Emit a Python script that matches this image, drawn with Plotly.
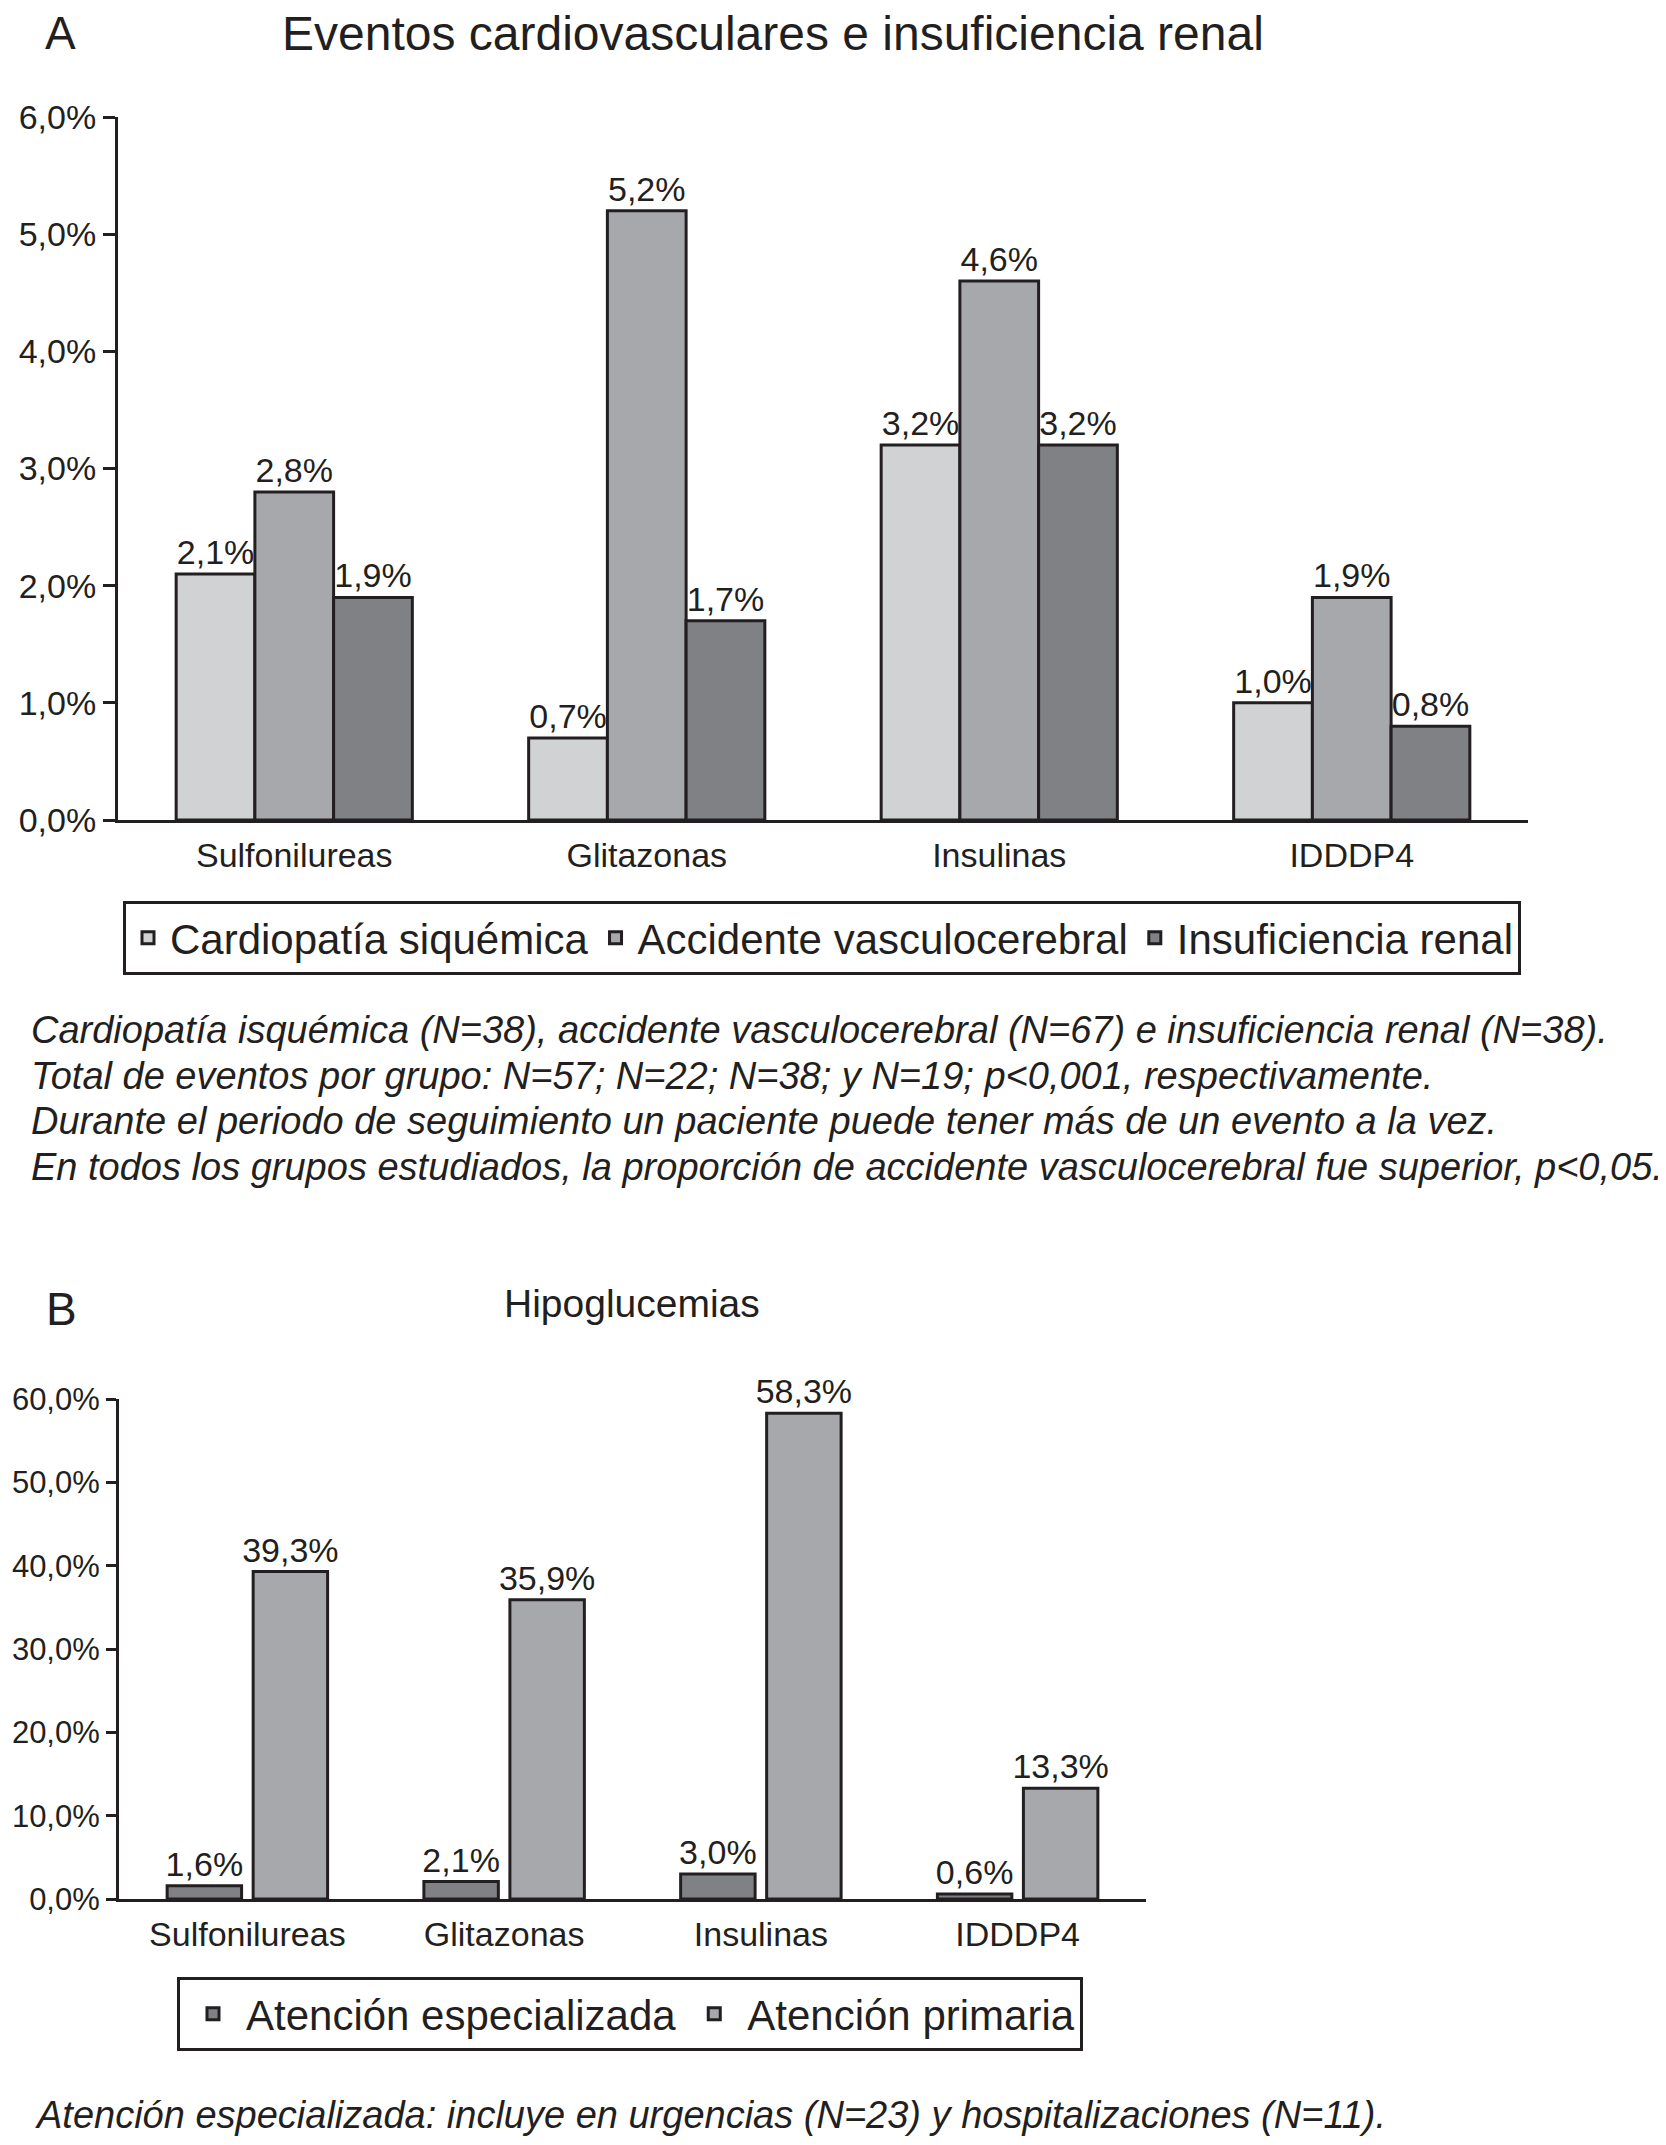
import plotly.graph_objects as go

W, H = 1666, 2145

# ---------------- data ----------------
cats_a = ["Sulfonilureas", "Glitazonas", "Insulinas", "IDDDP4"]
cardiopatia = [2.1, 0.7, 3.2, 1.0]
accidente = [2.8, 5.2, 4.6, 1.9]
insuficiencia = [1.9, 1.7, 3.2, 0.8]
series_a_names = ["Cardiopatía siquémica", "Accidente vasculocerebral", "Insuficiencia renal"]
yticks_a = [0, 1, 2, 3, 4, 5, 6]
yticklabels_a = ["0,0%", "1,0%", "2,0%", "3,0%", "4,0%", "5,0%", "6,0%"]

cats_b = ["Sulfonilureas", "Glitazonas", "Insulinas", "IDDDP4"]
especializada = [1.6, 2.1, 3.0, 0.6]
primaria = [39.3, 35.9, 58.3, 13.3]
series_b_names = ["Atención especializada", "Atención primaria"]
yticks_b = [0, 10, 20, 30, 40, 50, 60]
yticklabels_b = ["0,0%", "10,0%", "20,0%", "30,0%", "40,0%", "50,0%", "60,0%"]

caption_a = [
    "Cardiopatía isquémica (N=38), accidente vasculocerebral (N=67) e insuficiencia renal (N=38).",
    "Total de eventos por grupo: N=57; N=22; N=38; y N=19; p<0,001, respectivamente.",
    "Durante el periodo de seguimiento un paciente puede tener más de un evento a la vez.",
    "En todos los grupos estudiados, la proporción de accidente vasculocerebral fue superior, p<0,05.",
]
caption_b = "Atención especializada: incluye en urgencias (N=23) y hospitalizaciones (N=11)."

# ---------------- style ----------------
FONT = "Liberation Sans, Arial, Helvetica, sans-serif"
INK = "#231f20"
LIGHT = "#d1d2d4"
MID = "#a7a8ab"
DARK = "#808185"
OFF_X = 4  # page offset compensation (px)
OFF_Y = 8


def fmt(v):
    return f"{v:.1f}".replace(".", ",") + "%"


def px(x):
    return (x - OFF_X) / W


def py(y):
    return 1 - (y - OFF_Y) / H


fig = go.Figure()

for name, vals, col in zip(series_a_names, [cardiopatia, accidente, insuficiencia], [LIGHT, MID, DARK]):
    fig.add_trace(go.Bar(
        x=cats_a, y=vals, name=name, xaxis="x", yaxis="y",
        marker=dict(color=col, line=dict(color=INK, width=3)),
        text=[fmt(v) for v in vals], textposition="outside", constraintext="none",
        textfont=dict(size=34, color=INK, family=FONT),
        cliponaxis=False, legend="legend",
    ))

for name, vals, col in zip(series_b_names, [especializada, primaria], [DARK, MID]):
    fig.add_trace(go.Bar(
        x=cats_b, y=vals, name=name, xaxis="x2", yaxis="y2",
        marker=dict(color=col, line=dict(color=INK, width=3)),
        text=[fmt(v) for v in vals], textposition="outside", constraintext="none",
        textfont=dict(size=34, color=INK, family=FONT),
        cliponaxis=False, legend="legend2",
        width=(1 - 0.42) / 2,
    ))

axis_common = dict(showgrid=False, zeroline=False, showline=True, linecolor=INK, linewidth=3,
                   automargin=False)
tf34 = dict(size=34, color=INK, family=FONT)
tf31 = dict(size=31, color=INK, family=FONT)

fig.update_layout(
    width=W, height=H,
    margin=dict(l=0, r=0, t=0, b=0, pad=0, autoexpand=False),
    paper_bgcolor="white", plot_bgcolor="white",
    font=dict(family=FONT, color=INK),
    barmode="group",
    bargap=0.33,
    xaxis=dict(domain=[px(114), px(1524)], anchor="y", ticks="", ticklabelstandoff=3,
               tickfont=tf34, **axis_common),
    yaxis=dict(domain=[py(820), py(117)], anchor="x", range=[0, 6], tickvals=yticks_a,
               ticktext=yticklabels_a, ticks="outside", ticklen=12, tickwidth=3, tickcolor=INK,
               tickfont=tf34, **axis_common),
    xaxis2=dict(domain=[px(115), px(1142)], anchor="y2", ticks="", ticklabelstandoff=3,
                tickfont=tf34, **axis_common),
    yaxis2=dict(domain=[py(1899), py(1399)], anchor="x2", range=[0, 60], tickvals=yticks_b,
                ticktext=yticklabels_b, ticks="outside", ticklen=10, tickwidth=3, tickcolor=INK,
                tickfont=tf31, **axis_common),
    legend=dict(orientation="h", x=px(119), y=py(901), xanchor="left", yanchor="top",
                bordercolor=INK, borderwidth=3, font=dict(size=42, color=INK, family=FONT),
                itemwidth=34, bgcolor="white"),
    legend2=dict(orientation="h", x=px(173), y=py(1977), xanchor="left", yanchor="top",
                 bordercolor=INK, borderwidth=3, font=dict(size=42, color=INK, family=FONT),
                 itemwidth=56, bgcolor="white"),
)

annots = [
    dict(text="A", x=px(56), y=py(33), size=46),
    dict(text="Eventos cardiovasculares e insuficiencia renal", x=px(769), y=py(34), size=48),
    dict(text="B", x=px(57), y=py(1309), size=46),
    dict(text="Hipoglucemias", x=px(628), y=py(1303), size=39),
]
for a in annots:
    fig.add_annotation(xref="paper", yref="paper", showarrow=False, xanchor="center", yanchor="middle",
                       text=a["text"], x=a["x"], y=a["y"],
                       font=dict(size=a["size"], color=INK, family=FONT))

for i, line in enumerate(caption_a):
    fig.add_annotation(xref="paper", yref="paper", showarrow=False, xanchor="left", yanchor="middle",
                       text=f"<i>{line}</i>", x=px(25), y=py(1030 + i * 45.7),
                       font=dict(size=38, color=INK, family=FONT))
fig.add_annotation(xref="paper", yref="paper", showarrow=False, xanchor="left", yanchor="middle",
                   text=f"<i>{caption_b}</i>", x=px(29), y=py(2115),
                   font=dict(size=38, color=INK, family=FONT))

fig.write_html("out.html")
